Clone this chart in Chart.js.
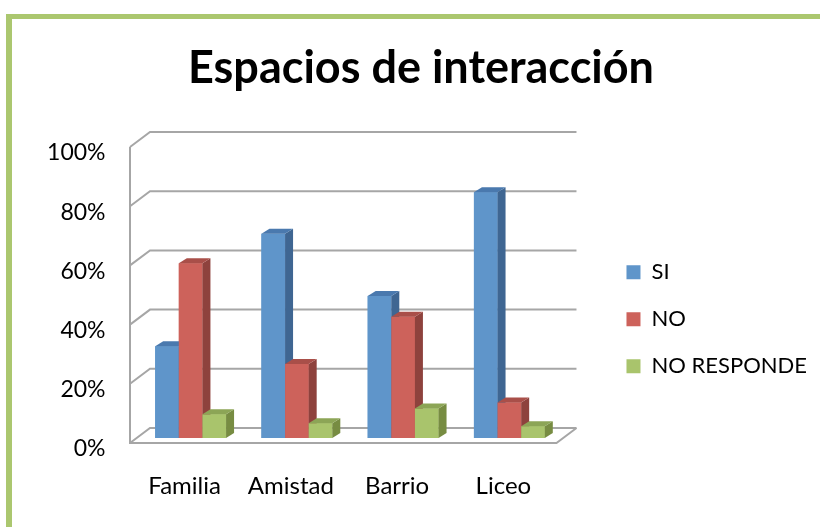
<!DOCTYPE html>
<html>
<head>
<meta charset="utf-8">
<script src="https://cdn.jsdelivr.net/npm/chart.js@4.4.1/dist/chart.umd.min.js"></script>
<style>
    html, body { margin: 0; padding: 0; background: #fff; overflow: hidden; }
    #frame {
        position: absolute; left: 6px; top: 14px; width: 900px; height: 600px;
        border-left: 6px solid #abc76f; border-top: 5px solid #abc76f;
    }
    #wrap { position: absolute; left: 0; top: 0; width: 820px; height: 527px; }
</style>
</head>
<body>
<div id="frame"></div>
<div id="wrap"><canvas id="chart"></canvas></div>
<script>
// データ
const categories = ['Familia', 'Amistad', 'Barrio', 'Liceo'];
const siValues = [31, 69, 48, 83];
const noValues = [59, 25, 41, 12];
const nrValues = [8, 5, 10, 4];
const seriesNames = ['SI', 'NO', 'NO RESPONDE'];
const yTickValues = [0, 20, 40, 60, 80, 100];

// 色 (前面, 上面, 側面)
const faceColors = [
    { front: '#5f95ca', top: '#4a79ae', side: '#3f6692' },
    { front: '#cd625b', top: '#a94f49', side: '#8e423d' },
    { front: '#a9c46c', top: '#8ca556', side: '#778c42' }
];
const gridColor = '#a6a6a6';
const DEPTH_X = 8, DEPTH_Y = 5;     // 棒の奥行き
const WALL_X = 20, WALL_Y = 15;     // 壁の奥行き

// 背面の壁と床
const wallPlugin = {
    id: 'wall3d',
    beforeDatasetsDraw(chart) {
        const { ctx, chartArea: a, scales: { y } } = chart;
        const fx = a.left - 7.5;
        const bx = fx + WALL_X;
        const rx = a.right + 14;
        ctx.save();
        ctx.strokeStyle = gridColor;
        ctx.lineWidth = 2;
        yTickValues.forEach(v => {
            const yp = y.getPixelForValue(v);
            ctx.beginPath();
            ctx.moveTo(fx, yp + 5);
            ctx.lineTo(bx, yp + 5 - WALL_Y);
            ctx.lineTo(rx, yp + 5 - WALL_Y);
            ctx.stroke();
        });
        const yTop = y.getPixelForValue(yTickValues[yTickValues.length - 1]) + 5;
        const y0 = y.getPixelForValue(0) + 5;
        ctx.beginPath();
        ctx.moveTo(fx, yTop);
        ctx.lineTo(fx, y0);
        ctx.lineTo(rx - WALL_X, y0);
        ctx.lineTo(rx, y0 - WALL_Y);
        ctx.stroke();
        ctx.restore();
    },
    // 棒を左から順に描き直す (前面・上面・側面)
    afterDatasetsDraw(chart) {
        const { ctx } = chart;
        ctx.save();
        chart.data.datasets.forEach((ds, i) => {
            const meta = chart.getDatasetMeta(i);
            const c = faceColors[i];
            meta.data.forEach(bar => {
                const { x, y, base, width } = bar.getProps(['x', 'y', 'base', 'width'], true);
                const l = x - width / 2, r = x + width / 2;
                ctx.fillStyle = c.front;
                ctx.fillRect(l, y, width, base - y);
                ctx.fillStyle = c.side;
                ctx.beginPath();
                ctx.moveTo(r, y);
                ctx.lineTo(r + DEPTH_X, y - DEPTH_Y);
                ctx.lineTo(r + DEPTH_X, base - DEPTH_Y);
                ctx.lineTo(r, base);
                ctx.closePath();
                ctx.fill();
                ctx.fillStyle = c.top;
                ctx.beginPath();
                ctx.moveTo(l, y);
                ctx.lineTo(r, y);
                ctx.lineTo(r + DEPTH_X, y - DEPTH_Y);
                ctx.lineTo(l + DEPTH_X, y - DEPTH_Y);
                ctx.closePath();
                ctx.fill();
            });
        });
        ctx.restore();
    }
};

const allValues = [siValues, noValues, nrValues];

new Chart(document.getElementById('chart'), {
    type: 'bar',
    data: {
        labels: categories,
        datasets: seriesNames.map((name, i) => ({
            label: name,
            data: allValues[i],
            backgroundColor: faceColors[i].front,
            borderWidth: 0,
            barPercentage: 1.0,
            categoryPercentage: 0.667
        }))
    },
    options: {
        responsive: true,
        maintainAspectRatio: false,
        animation: false,
        events: [],
        layout: { padding: { left: 25, right: 3, top: 0, bottom: 0 } },
        scales: {
            x: {
                grid: { display: false, drawTicks: false },
                border: { display: false },
                ticks: {
                    color: '#000',
                    font: { family: 'Lato', size: 24 },
                    padding: 34,
                    labelOffset: -6
                },
                afterFit: s => { s.height = 89; }
            },
            y: {
                min: 0,
                max: 100,
                grid: { display: false, drawTicks: false },
                border: { display: false },
                ticks: {
                    stepSize: 20,
                    color: '#000',
                    font: { family: 'Lato', size: 23 },
                    padding: 32,
                    labelOffset: 11,
                    callback: v => v + '%'
                },
                afterFit: s => { s.width = 112.5; }
            },
            y2: {
                position: 'right',
                grid: { display: false, drawTicks: false },
                border: { display: false },
                ticks: { display: false },
                afterFit: s => { s.width = 39; }
            }
        },
        plugins: {
            title: {
                display: true,
                text: 'Espacios de interacción',
                color: '#000',
                font: { family: 'Lato', size: 45, weight: 'bold' },
                padding: { top: 41, bottom: 47 }
            },
            legend: {
                position: 'right',
                maxWidth: 225,
                title: {
                    display: true,
                    text: '',
                    padding: { top: 0, bottom: 97 }
                },
                labels: {
                    color: '#000',
                    font: { family: 'Lato', size: 22 },
                    boxWidth: 14,
                    boxHeight: 14,
                    padding: 25
                }
            },
            tooltip: { enabled: false }
        }
    },
    plugins: [wallPlugin]
});
</script>
</body>
</html>
